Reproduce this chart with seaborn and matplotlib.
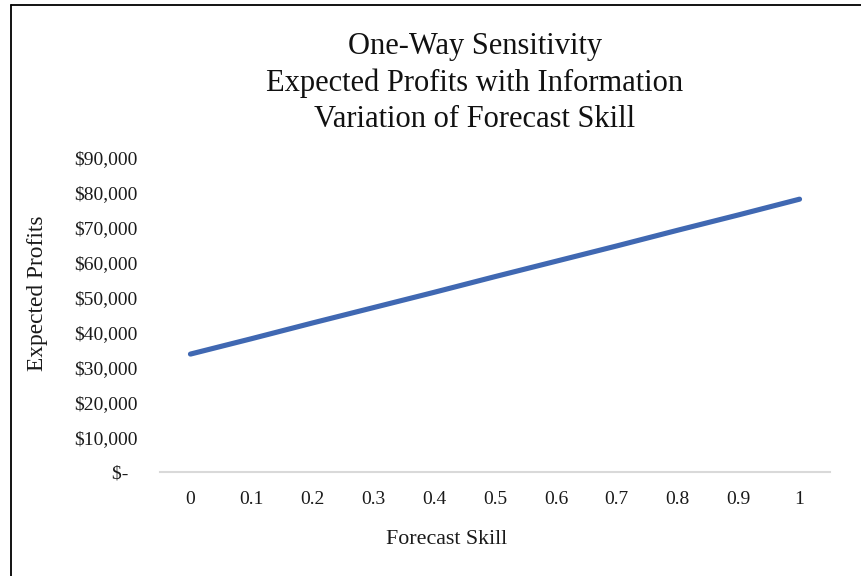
import matplotlib
matplotlib.use("Agg")
import matplotlib.pyplot as plt
from matplotlib.lines import Line2D
import seaborn as sns
import pandas as pd

# Forecast skill levels and expected profits with information
skill = ["0", "0.1", "0.2", "0.3", "0.4", "0.5", "0.6", "0.7", "0.8", "0.9", "1"]
profits = [33800, 38200, 42700, 47100, 51500, 56000, 60400, 64800, 69300, 73700, 78200]
y_ticks = [0, 10000, 20000, 30000, 40000, 50000, 60000, 70000, 80000, 90000]
y_tick_labels = ["$-  ", "$10,000", "$20,000", "$30,000", "$40,000", "$50,000",
                 "$60,000", "$70,000", "$80,000", "$90,000"]

title_lines = ["One-Way Sensitivity", "Expected Profits with Information",
               "Variation of Forecast Skill"]

sns.set_theme(style="white")
plt.rcParams["font.family"] = ["Liberation Serif", "DejaVu Serif"]

df = pd.DataFrame({"pos": range(len(skill)), "profit": profits})

W, H = 862, 576
fig = plt.figure(figsize=(W / 100, H / 100), dpi=100)
ax = fig.add_axes([160 / W, 1 - 472 / H, (830 - 160) / W, (472 - 158) / H])

sns.lineplot(data=df, x="pos", y="profit", ax=ax, color="#4068B2",
             linewidth=3.7, solid_capstyle="round")

ax.set_xlim(-0.5, len(skill) - 0.5)
ax.set_ylim(0, 90000)
ax.set_xticks(range(len(skill)))
ax.set_xticklabels(skill)
ax.set_yticks(y_ticks)
ax.set_yticklabels(y_tick_labels)
ax.tick_params(axis="both", length=0, labelsize=14, colors="#1a1a1a")
ax.tick_params(axis="y", pad=16)
ax.tick_params(axis="x", pad=14)
ax.set_xlabel("")
ax.set_ylabel("")

for side in ["top", "right", "left"]:
    ax.spines[side].set_visible(False)
ax.spines["bottom"].set_color("#D9D9D9")
ax.spines["bottom"].set_linewidth(1.5)

# Axis titles
fig.text(447 / W, 1 - 540 / H, "Forecast Skill", ha="center", va="center",
         fontsize=15.8, color="#1a1a1a")
fig.text(38 / W, 1 - 293 / H, "Expected Profits", ha="center", va="center",
         rotation=90, fontsize=16.8, color="#1a1a1a")

# Chart title
fig.text(475 / W, 1 - 83 / H, "\n".join(title_lines), ha="center", va="center",
         fontsize=22, color="#111111", linespacing=1.32)

# Outer frame of the chart area
fig.add_artist(Line2D([11 / W, 11 / W], [0, 1 - 5 / H], transform=fig.transFigure,
                      color="black", linewidth=1.3))
fig.add_artist(Line2D([11 / W, 1], [1 - 5 / H, 1 - 5 / H], transform=fig.transFigure,
                      color="black", linewidth=1.3))

fig.savefig("out.png", dpi=100, facecolor="white")
